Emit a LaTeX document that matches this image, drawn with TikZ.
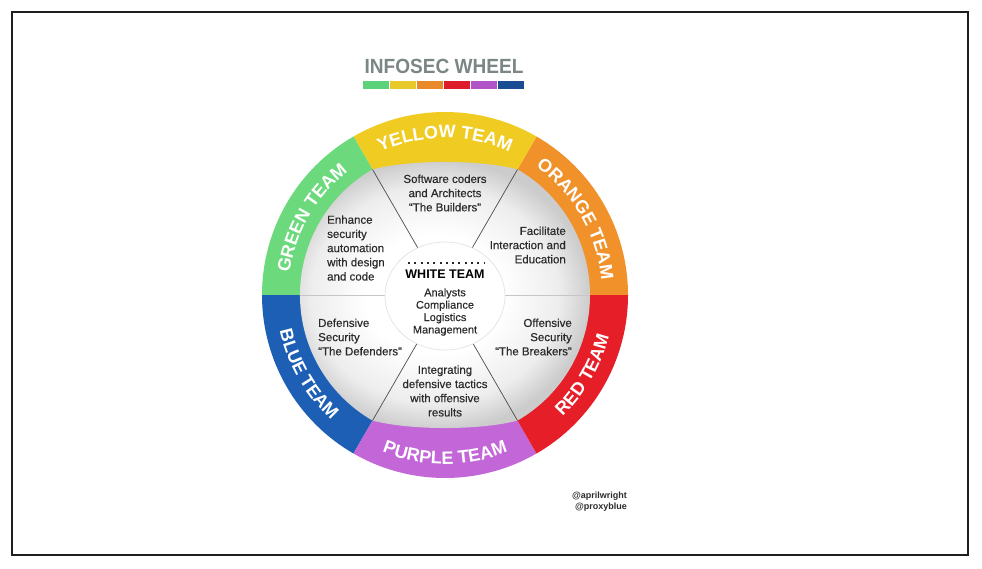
\documentclass[tikz,border=0pt]{standalone}
\usepackage{fontspec}
\setmainfont{Liberation Sans}
\newfontfamily\medfont[FakeBold=0.35,Ligatures=TeX]{Liberation Sans}
\usetikzlibrary{decorations.text}
\definecolor{cgreen}{HTML}{6BD97C}
\definecolor{cyellow}{HTML}{F0CC22}
\definecolor{corange}{HTML}{F0912A}
\definecolor{cred}{HTML}{E61E27}
\definecolor{cpurple}{HTML}{C266D8}
\definecolor{cblue}{HTML}{1D5FB5}
\definecolor{bgreen}{HTML}{5ED27A}
\definecolor{byellow}{HTML}{E9C82A}
\definecolor{borange}{HTML}{E8892A}
\definecolor{bred}{HTML}{DD1B2B}
\definecolor{bpurple}{HTML}{B054C8}
\definecolor{bblue}{HTML}{1A4C93}
\definecolor{titlegray}{HTML}{7B8685}
\definecolor{txtgray}{HTML}{2B2B2B}
\definecolor{framecol}{HTML}{1E1E1E}
\pgfdeclareradialshading{sectorshade}{\pgfpoint{0bp}{0bp}}{color(0bp)=(white); color(11bp)=(white); color(20bp)=(gray!14); color(25bp)=(gray!40); color(50bp)=(gray!40)}
\newcommand\ringfmt{\fontsize{18}{18}\selectfont\bfseries\color{white}}
\begin{document}
\begin{tikzpicture}[x=1pt,y=1pt,
  sectortext/.style={font=\medfont\fontsize{11.5}{14.2}\selectfont, text=txtgray, inner sep=0pt},
  whitetext/.style={font=\medfont\fontsize{11}{12.4}\selectfont, text=txtgray, inner sep=0pt, align=center},
  divider/.style={draw=black!70, line width=0.7pt},
  hdivider/.style={draw=gray!45, line width=0.7pt},
  barseg/.style={inner sep=0pt, minimum width=26pt, minimum height=8pt}]
\useasboundingbox (0,0) rectangle (982,-568);
\fill[white] (0,0) rectangle (982,-568);
\draw[line width=2pt, framecol] (12,-12) rectangle (968,-555);

% title and colour bar
\node[inner sep=0pt, text=titlegray, font=\fontsize{20.5}{20.5}\selectfont\bfseries] (title) at (444,-66) {\scalebox{0.93}[1]{INFOSEC WHEEL}};
\node[barseg, fill=bgreen]  (b1) at (375.5,-85) {};
\node[barseg, fill=byellow] (b2) at (402.5,-85) {};
\node[barseg, fill=borange] (b3) at (429.5,-85) {};
\node[barseg, fill=bred]    (b4) at (456.5,-85) {};
\node[barseg, fill=bpurple] (b5) at (483.5,-85) {};
\node[barseg, fill=bblue]   (b6) at (510.5,-85) {};

\begin{scope}[shift={(445,-295)}]
  % coloured ring
  \fill[corange] (0,0) -- (0:183) arc[start angle=0, end angle=60, radius=183] -- cycle;
  \fill[cyellow] (0,0) -- (60:183) arc[start angle=60, end angle=120, radius=183] -- cycle;
  \fill[cgreen]  (0,0) -- (120:183) arc[start angle=120, end angle=180, radius=183] -- cycle;
  \fill[cblue]   (0,0) -- (180:183) arc[start angle=180, end angle=240, radius=183] -- cycle;
  \fill[cpurple] (0,0) -- (240:183) arc[start angle=240, end angle=300, radius=183] -- cycle;
  \fill[cred]    (0,0) -- (300:183) arc[start angle=300, end angle=360, radius=183] -- cycle;
  % grey sectors
  \shade[shading=sectorshade] (0:145) arc[start angle=0, end angle=60, radius=145]
     .. controls (35,135.5) and (-35,135.5) .. (120:145)
     arc[start angle=120, end angle=240, radius=145]
     .. controls (-35,-135.5) and (35,-135.5) .. (300:145)
     arc[start angle=300, end angle=360, radius=145] -- cycle;
  \draw[hdivider] (-145,0) -- (145,0);
  \foreach \a in {60,120,240,300} \draw[divider] (0,0) -- (\a:145);
  % white centre
  \fill[white] (0,-1) ellipse[x radius=60, y radius=54];
  \draw[gray!25, line width=0.6pt] (0,-1) ellipse[x radius=60, y radius=54];
  % ring labels
  \path[decorate, decoration={text along path, text align=center, text={|\ringfmt|YELLOW TEAM}}]
     (120:157) arc[start angle=120, end angle=60, radius=157];
  \path[decorate, decoration={text along path, text align=center, text={|\ringfmt|GREEN TEAM}}]
     (180:157) arc[start angle=180, end angle=120, radius=157];
  \path[decorate, decoration={text along path, text align=center, text={|\ringfmt|ORANGE TEAM}}]
     (60:157) arc[start angle=60, end angle=0, radius=157];
  \path[decorate, decoration={text along path, text align=center, text={|\ringfmt|BLUE TEAM}}]
     (180:169) arc[start angle=180, end angle=240, radius=169];
  \path[decorate, decoration={text along path, text align=center, text={|\ringfmt|PURPLE TEAM}}]
     (240:169) arc[start angle=240, end angle=300, radius=169];
  \path[decorate, decoration={text along path, text align=center, text={|\ringfmt|RED TEAM}}]
     (300:169) arc[start angle=300, end angle=360, radius=169];
\end{scope}

% sector texts
\node[sectortext, align=center] (yt) at (445,-193) {Software coders\\and Architects\\“The Builders”};
\node[sectortext, align=left, anchor=west] (gt) at (327,-248) {Enhance\\security\\automation\\with design\\and code};
\node[sectortext, align=right, anchor=east] (ot) at (566,-245) {Facilitate\\Interaction and\\Education};
\node[sectortext, align=left, anchor=west] (bt) at (318,-337) {Defensive\\Security\\“The Defenders”};
\node[sectortext, align=right, anchor=east] (rt) at (572,-337) {Offensive\\Security\\“The Breakers”};
\node[sectortext, align=center] (pt) at (445,-391) {Integrating\\defensive tactics\\with offensive\\results};

% white team
\coordinate (dl) at (408,-263);
\coordinate (dr) at (484,-263);
\draw[black!85, line width=2pt, dash pattern=on 2pt off 4.3pt] (dl) -- (dr);
\node[inner sep=0pt, text=black, font=\fontsize{12.5}{12.5}\selectfont\bfseries] (wt) at (445,-274) {WHITE TEAM};
\node[whitetext] (wl) at (445,-312) {Analysts\\Compliance\\Logistics\\Management};

% credits
\node[inner sep=0pt, align=right, anchor=east, text=txtgray, font=\fontsize{9}{11}\selectfont\bfseries] (cr) at (627,-501.5) {@aprilwright\\@proxyblue};
\end{tikzpicture}
\end{document}
